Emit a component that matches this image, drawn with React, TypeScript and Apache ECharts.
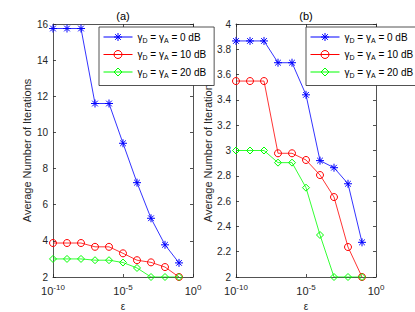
import React, { useEffect, useRef } from "react";
import * as echarts from "echarts";

const epsilon = [1e-10, 1e-9, 1e-8, 1e-7, 1e-6, 1e-5, 1e-4, 1e-3, 1e-2, 1e-1];
const seriesNames = ["γD = γA = 0 dB", "γD = γA = 10 dB", "γD = γA = 20 dB"];
const leftBlue = [15.75, 15.75, 15.75, 11.6, 11.6, 9.4, 7.22, 5.25, 3.78, 2.78];
const leftRed = [3.88, 3.88, 3.88, 3.67, 3.67, 3.31, 2.93, 2.81, 2.55, 2.0];
const leftGreen = [3.0, 3.0, 3.0, 2.93, 2.93, 2.8, 2.5, 2.0, 2.0, 2.0];
const rightBlue = [3.866, 3.866, 3.866, 3.694, 3.694, 3.44, 2.92, 2.864, 2.737, 2.274];
const rightRed = [3.549, 3.549, 3.549, 2.978, 2.978, 2.925, 2.806, 2.632, 2.237, 2.0];
const rightGreen = [3.0, 3.0, 3.0, 2.904, 2.904, 2.706, 2.332, 2.0, 2.0, 2.0];
const titles = ["(a)", "(b)"];
const yLabel = "Average Number of Iterations";
const xLabel = "ε";

const colors = ["#0000ff", "#ff0000", "#00ff00"];
const symbols = [
  "path://M0,-5L0,5M-5,0L5,0M-3.54,-3.54L3.54,3.54M-3.54,3.54L3.54,-3.54",
  "circle",
  "diamond",
];
const AX = "#262626";
const FONT = "Liberation Sans";

export default function App() {
  const ref = useRef<HTMLDivElement>(null);
  useEffect(() => {
    document.body.style.margin = "0";
    const chart = echarts.init(ref.current!, null, { renderer: "svg" });
    const grids = [
      { left: 53, top: 24, width: 140, height: 253, outerBoundsMode: "none", containLabel: false },
      { left: 236, top: 24, width: 140, height: 253, outerBoundsMode: "none", containLabel: false },
    ];
    const yRanges = [
      { min: 2, max: 16, interval: 2 },
      { min: 2, max: 4, interval: 0.2 },
    ];
    const xAxis: any[] = [];
    const yAxis: any[] = [];
    grids.forEach((g, gi) => {
      xAxis.push({
        type: "log",
        logBase: 10,
        gridIndex: gi,
        min: 1e-10,
        max: 1,
        interval: 5,
        position: "bottom",
        name: xLabel,
        nameLocation: "middle",
        nameGap: 24,
        nameTextStyle: { color: AX, fontFamily: FONT, fontSize: 10 },
        axisLine: { lineStyle: { color: AX, width: 0.8 } },
        axisTick: { inside: true, length: 3, lineStyle: { color: AX, width: 0.8 } },
        minorTick: { show: false },
        splitLine: { show: false },
        axisLabel: {
          color: AX,
          fontFamily: FONT,
          fontSize: 11,
          margin: 6,
          formatter: (v: number) => `10{sup|${Math.round(Math.log10(v))}}`,
          rich: {
            sup: { fontSize: 8, fontFamily: FONT, color: AX, verticalAlign: "bottom", padding: [0, 0, 7, 0] },
          },
        },
      });
      xAxis.push({
        type: "log",
        logBase: 10,
        gridIndex: gi,
        min: 1e-10,
        max: 1,
        interval: 5,
        position: "top",
        axisLine: { lineStyle: { color: AX, width: 0.8 } },
        axisTick: { inside: true, length: 3, lineStyle: { color: AX, width: 0.8 } },
        axisLabel: { show: false },
        splitLine: { show: false },
        name: titles[gi],
        nameLocation: "middle",
        nameGap: 3,
        nameTextStyle: { color: "#000", fontFamily: FONT, fontSize: 11 },
      });
      const yr = yRanges[gi];
      yAxis.push({
        type: "value",
        gridIndex: gi,
        ...yr,
        position: "left",
        name: yLabel,
        nameLocation: "middle",
        nameGap: gi === 0 ? 15 : 18,
        nameTextStyle: { color: AX, fontFamily: FONT, fontSize: 11 },
        axisLine: { show: true, lineStyle: { color: AX, width: 0.8 } },
        axisTick: { show: true, inside: true, length: 3, lineStyle: { color: AX, width: 0.8 } },
        splitLine: { show: false },
        axisLabel: {
          color: AX,
          fontFamily: FONT,
          fontSize: 10,
          margin: 5,
          formatter: (v: number) => String(+v.toFixed(1)),
        },
      });
      yAxis.push({
        type: "value",
        gridIndex: gi,
        ...yr,
        position: "right",
        axisLine: { show: true, lineStyle: { color: AX, width: 0.8 } },
        axisTick: { show: true, inside: true, length: 3, lineStyle: { color: AX, width: 0.8 } },
        splitLine: { show: false },
        axisLabel: { show: false },
      });
    });

    const data = [
      [leftBlue, leftRed, leftGreen],
      [rightBlue, rightRed, rightGreen],
    ];
    const series: any[] = [];
    data.forEach((set, gi) => {
      set.forEach((vals, si) => {
        series.push({
          type: "line",
          name: seriesNames[si],
          xAxisIndex: gi * 2,
          yAxisIndex: gi * 2,
          data: epsilon.map((e, i) => [e, vals[i]]),
          symbol: symbols[si],
          symbolSize: si === 0 ? 8 : 7,
          showAllSymbol: true,
          lineStyle: { color: colors[si], width: 0.8 },
          itemStyle: { color: "transparent", borderColor: colors[si], borderWidth: 1 },
          emphasis: { disabled: true },
        });
      });
    });

    const legendBase = {
      orient: "vertical",
      top: 27,
      data: seriesNames,
      backgroundColor: "#fff",
      borderColor: AX,
      borderWidth: 0.8,
      borderRadius: 0,
      padding: [5, 8, 7, 4],
      itemWidth: 29,
      itemHeight: 10,
      itemGap: 6,
      z: 10,
      selectedMode: false,
      lineStyle: { width: 1 },
      itemStyle: { borderWidth: 1 },
      formatter: (n: string) => {
        const m = n.match(/γD = γA = (\d+) dB/);
        return m ? `γ{sub|D} = γ{sub|A} = ${m[1]} dB` : n;
      },
      textStyle: {
        color: "#000",
        fontFamily: FONT,
        fontSize: 10,
        rich: {
          sub: { fontSize: 7, fontFamily: FONT, color: "#000", verticalAlign: "top", padding: [6, 0, 0, 0] },
        },
      },
    };

    chart.setOption({
      animation: false,
      backgroundColor: "#fff",
      grid: grids,
      xAxis,
      yAxis,
      series,
      legend: [
        { ...legendBase, left: 99 },
        { ...legendBase, left: 306 },
      ],
    });
    return () => chart.dispose();
  }, []);
  return <div ref={ref} style={{ position: "fixed", left: 0, top: 0, width: 415, height: 312 }} />;
}
